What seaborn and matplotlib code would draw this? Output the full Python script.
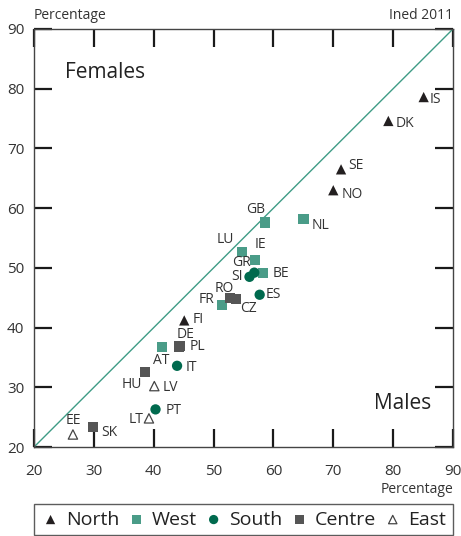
import pandas as pd
import seaborn as sns
import matplotlib.pyplot as plt

# Data (x = males, y = females, percentage)
REGIONS = ["North", "West", "South", "Centre", "East"]

NORTH_CODES = ["IS", "DK", "SE", "NO", "FI"]
NORTH_MALES = [85.1, 79.2, 71.3, 70.0, 45.1]
NORTH_FEMALES = [78.6, 74.6, 66.5, 63.0, 41.2]

WEST_CODES = ["GB", "NL", "LU", "IE", "BE", "FR", "AT"]
WEST_MALES = [58.6, 65.0, 54.7, 56.9, 58.2, 51.4, 41.4]
WEST_FEMALES = [57.6, 58.2, 52.7, 51.3, 49.1, 43.8, 36.8]

SOUTH_CODES = ["GR", "SI", "ES", "IT", "PT"]
SOUTH_MALES = [56.8, 56.0, 57.7, 43.9, 40.3]
SOUTH_FEMALES = [49.2, 48.5, 45.5, 33.6, 26.3]

CENTRE_CODES = ["RO", "CZ", "DE", "PL", "HU", "SK"]
CENTRE_MALES = [52.7, 53.7, 44.2, 44.3, 38.5, 29.9]
CENTRE_FEMALES = [45.0, 44.8, 36.8, 36.9, 32.6, 23.4]

EAST_CODES = ["LV", "LT", "EE"]
EAST_MALES = [40.1, 39.2, 26.5]
EAST_FEMALES = [30.2, 24.8, 22.1]

# Styling
COLORS = {"North": "#231f20", "West": "#4a9c88", "South": "#006a4e",
          "Centre": "#555555", "East": "none"}
MARKERS = {"North": "^", "West": "s", "South": "o", "Centre": "s", "East": "^"}
LINE_COLOR = "#3f9c86"
TEXT_COLOR = "#333333"

# label offsets in points (dx, dy, horizontal alignment)
LABEL_POS = {
    "IS": (4, -2, "left"), "DK": (5, -2, "left"), "SE": (5, 3, "left"),
    "NO": (6, -3, "left"), "FI": (6, 1, "left"),
    "GB": (-7, 9, "center"), "NL": (6, -5, "left"), "LU": (-12, 9, "center"),
    "IE": (4, 11, "center"), "BE": (7, 0, "left"), "FR": (-11, 4, "center"),
    "AT": (-1, -10, "center"),
    "GR": (-9, 7, "center"), "SI": (-5, 0, "right"), "ES": (4, 0, "left"),
    "IT": (6, -1, "left"), "PT": (7, -1, "left"),
    "RO": (-4, 7, "center"), "CZ": (9, -7, "center"), "DE": (5, 9, "center"),
    "PL": (7, 0, "left"), "HU": (-9, -9, "center"), "SK": (6, -4, "left"),
    "LV": (6, -1, "left"), "LT": (-4, -1, "right"), "EE": (0, 10, "center"),
}

rows = []
for region, codes, xs, ys in [
    ("North", NORTH_CODES, NORTH_MALES, NORTH_FEMALES),
    ("West", WEST_CODES, WEST_MALES, WEST_FEMALES),
    ("South", SOUTH_CODES, SOUTH_MALES, SOUTH_FEMALES),
    ("Centre", CENTRE_CODES, CENTRE_MALES, CENTRE_FEMALES),
    ("East", EAST_CODES, EAST_MALES, EAST_FEMALES),
]:
    for c, x, y in zip(codes, xs, ys):
        rows.append({"region": region, "code": c, "males": x, "females": y})
df = pd.DataFrame(rows)

sns.set_style("ticks")
plt.rcParams["font.family"] = ["Open Sans", "DejaVu Sans"]

fig = plt.figure(figsize=(4.61, 5.36), dpi=100)
ax = fig.add_axes([0.0738, 0.166, 0.9088, 0.7799])

ax.axline((20, 20), slope=1, color=LINE_COLOR, lw=1.0, zorder=1)

for region in REGIONS:
    sub = df[df["region"] == region]
    if region == "East":
        sns.scatterplot(data=sub, x="males", y="females", marker=MARKERS[region],
                        color="none", edgecolor="#444444", linewidth=0.9, s=45,
                        label=region, legend=False, ax=ax, zorder=3)
    else:
        sns.scatterplot(data=sub, x="males", y="females", marker=MARKERS[region],
                        color=COLORS[region], edgecolor="none", s=55,
                        label=region, legend=False, ax=ax, zorder=3)

for _, r in df.iterrows():
    dx, dy, ha = LABEL_POS[r["code"]]
    ax.annotate(r["code"], (r["males"], r["females"]), xytext=(dx, dy),
                textcoords="offset points", ha=ha, va="center",
                fontsize=10, color=TEXT_COLOR)

ax.set_xlim(20, 90)
ax.set_ylim(20, 90)
ax.set_xticks(range(20, 91, 10))
ax.set_yticks(range(20, 91, 10))
ax.tick_params(direction="in", length=13, width=1.6, color="#1a1a1a",
               top=True, right=True, labelsize=11, labelcolor=TEXT_COLOR)
ax.tick_params(axis="x", pad=12)
ax.tick_params(axis="y", pad=7)
for sp in ax.spines.values():
    sp.set_linewidth(1.0)
    sp.set_color("#444444")
ax.set_xlabel("")
ax.set_ylabel("")

ax.text(0.073, 0.895, "Females", transform=ax.transAxes, fontsize=15,
        color="#222222", va="center")
ax.text(0.812, 0.105, "Males", transform=ax.transAxes, fontsize=15,
        color="#222222", va="center")

fig.text(0.0738, 0.972, "Percentage", fontsize=10, color=TEXT_COLOR,
         ha="left", va="center")
fig.text(0.9826, 0.972, "Ined 2011", fontsize=10, color=TEXT_COLOR,
         ha="right", va="center")
fig.text(0.9826, 0.087, "Percentage", fontsize=10, color=TEXT_COLOR,
         ha="right", va="center")

handles, labels = ax.get_legend_handles_labels()
leg = fig.legend(handles, labels, loc="lower left", ncol=5, mode="expand",
                 bbox_to_anchor=(0.0738, 0.001, 0.9088, 0.065),
                 borderaxespad=0, frameon=True, fancybox=False, fontsize=14,
                 handletextpad=0.3, columnspacing=0.6, handlelength=1.0,
                 borderpad=0.35, markerscale=0.9, labelcolor="#222222")
leg.get_frame().set_edgecolor("#333333")
leg.get_frame().set_linewidth(1.0)

fig.savefig("out.png", dpi=100)
